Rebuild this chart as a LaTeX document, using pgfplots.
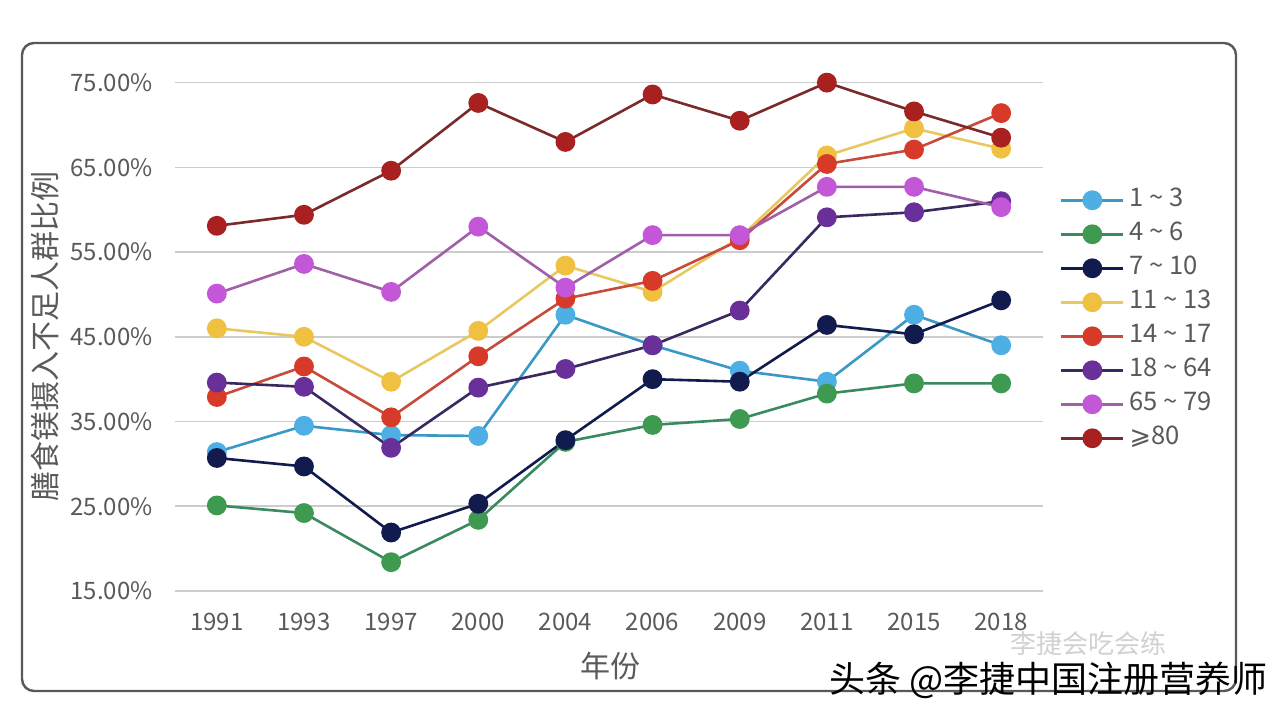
\documentclass[border=0pt]{standalone}
\usepackage{pgfplots}
\pgfplotsset{compat=1.18}
\usepackage{pgfplotstable}
\usepackage{fontspec}
\setmainfont{Noto Sans CJK SC}
\newfontfamily\symfont{DejaVu Sans}
\definecolor{txt}{HTML}{5A5A5A}
\definecolor{gridc}{HTML}{CCCCCC}
\definecolor{mA}{HTML}{4DAFE3}\definecolor{lA}{HTML}{3A98C4}
\definecolor{mB}{HTML}{3E9A50}\definecolor{lB}{HTML}{3A8A60}
\definecolor{mC}{HTML}{111B4E}\definecolor{lC}{HTML}{111B4E}
\definecolor{mD}{HTML}{F0C040}\definecolor{lD}{HTML}{E9C860}
\definecolor{mE}{HTML}{D83A2A}\definecolor{lE}{HTML}{C84A3A}
\definecolor{mF}{HTML}{6A309A}\definecolor{lF}{HTML}{3A2860}
\definecolor{mG}{HTML}{C456D8}\definecolor{lG}{HTML}{A060A8}
\definecolor{mH}{HTML}{A82020}\definecolor{lH}{HTML}{7A2A2A}

\pgfplotstableread{
x  a     b     c     d     e     f     g     h
0  31.4  25.1  30.7  46.0  37.9  39.6  50.1  58.1
1  34.5  24.2  29.7  45.0  41.5  39.1  53.6  59.4
2  33.4  18.4  21.9  39.7  35.5  31.9  50.3  64.6
3  33.3  23.4  25.3  45.7  42.7  39.0  58.0  72.6
4  47.6  32.6  32.8  53.4  49.5  41.2  50.8  68.0
5  44.0  34.6  40.0  50.3  51.6  44.0  57.0  73.6
6  41.0  35.3  39.7  56.7  56.4  48.1  57.0  70.5
7  39.7  38.3  46.4  66.4  65.4  59.1  62.7  75.0
8  47.6  39.5  45.3  69.6  67.1  59.7  62.7  71.6
9  44.0  39.5  49.3  67.2  71.4  61.0  60.3  68.5
}\datatable

\begin{document}
\begin{tikzpicture}
\useasboundingbox (0,0) rectangle (642pt,357pt);
\fill[white] (0,0) rectangle (642pt,357pt);
\draw[black!65, line width=1.2pt, rounded corners=6pt] (11pt,11.5pt) rectangle (618pt,335.5pt);
\begin{axis}[
  at={(87.5pt,61.5pt)}, anchor=south west,
  scale only axis, width=434pt, height=254.2pt,
  xmin=-0.48, xmax=9.48, ymin=15, ymax=75,
  clip=false,
  axis line style={draw=none},
  major tick length=0pt,
  xtick style={draw=none}, ytick style={draw=none},
  xtick={0,...,9},
  xticklabels={1991,1993,1997,2000,2004,2006,2009,2011,2015,2018},
  ytick={15,25,35,45,55,65,75},
  yticklabels={15.00\%,25.00\%,35.00\%,45.00\%,55.00\%,65.00\%,75.00\%},
  xmajorgrids=false,
  ymajorgrids=true,
  major grid style={draw=gridc, line width=0.8pt},
  /pgf/number format/assume math mode=true,
  ticklabel style={font=\fontsize{12}{14}\selectfont, text=txt},
  xticklabel style={anchor=base, inner sep=0pt, yshift=-19.5pt},
  yticklabel style={anchor=east, inner sep=0pt, xshift=-11pt},
  xlabel={年份},
  ylabel={膳食镁摄入不足人群比例},
  label style={font=\fontsize{15}{17}\selectfont, text=txt},
  xlabel style={at={(axis description cs:0.502,-0.1476)}, anchor=center},
  ylabel style={at={(axis description cs:-0.1498,0.5)}, anchor=center},
  legend style={at={(rel axis cs:1.0196,0.802)}, anchor=north west, draw=none, fill=none,
    inner sep=0pt, outer sep=0pt, row sep=0pt,
    font=\fontsize{12.8}{14}\selectfont, text=txt,
    nodes={text height=9pt, text depth=3pt, inner sep=2.5pt}},
  legend cell align=left,
  legend image code/.code={
    \draw[mark repeat=2,mark phase=2,#1] plot coordinates {(0pt,0pt)(15.5pt,0pt)(31pt,0pt)};
  },
  every axis plot/.append style={line width=1.3pt, mark=*, mark size=4.3pt},
]
\addplot[color=lA, mark options={fill=mA, draw=mA}] table[x=x,y=a] {\datatable};
\addlegendentry{1 \textasciitilde\ 3}
\addplot[color=lB, mark options={fill=mB, draw=mB}] table[x=x,y=b] {\datatable};
\addlegendentry{4 \textasciitilde\ 6}
\addplot[color=lC, mark options={fill=mC, draw=mC}] table[x=x,y=c] {\datatable};
\addlegendentry{7 \textasciitilde\ 10}
\addplot[color=lD, mark options={fill=mD, draw=mD}] table[x=x,y=d] {\datatable};
\addlegendentry{11 \textasciitilde\ 13}
\addplot[color=lE, mark options={fill=mE, draw=mE}] table[x=x,y=e] {\datatable};
\addlegendentry{14 \textasciitilde\ 17}
\addplot[color=lF, mark options={fill=mF, draw=mF}] table[x=x,y=f] {\datatable};
\addlegendentry{18 \textasciitilde\ 64}
\addplot[color=lG, mark options={fill=mG, draw=mG}] table[x=x,y=g] {\datatable};
\addlegendentry{65 \textasciitilde\ 79}
\addplot[color=lH, mark options={fill=mH, draw=mH}] table[x=x,y=h] {\datatable};
\addlegendentry{{\symfont ⩾}80}
\end{axis}
\node[anchor=west, text=black!18, font=\fontsize{13}{15}\selectfont, inner sep=0pt] at (505pt,35pt) {李捷会吃会练};
\node[anchor=east, text=black, font=\fontsize{18}{20}\selectfont, inner sep=0pt] at (634pt,17pt) {头条 @李捷中国注册营养师};
\end{tikzpicture}
\end{document}
